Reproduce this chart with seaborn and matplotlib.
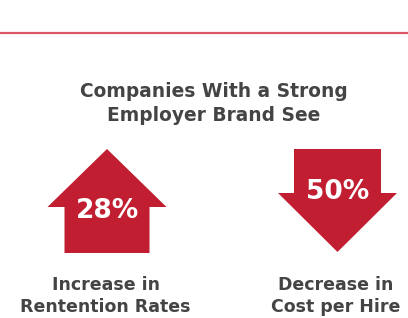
import matplotlib
matplotlib.use("Agg")
import matplotlib.pyplot as plt
import seaborn as sns
import numpy as np

# data
stats = [28, 50]
directions = ["up", "down"]
captions = ["Increase in\nRentention Rates", "Decrease in\nCost per Hire"]
title = "Companies With a Strong\nEmployer Brand See"

RED = "#c11f31"
GREY = "#444444"

sns.set_theme(style="white")
plt.rcParams['font.family'] = ['DejaVu Sans']

fig = plt.figure(figsize=(4.08, 3.18), dpi=100)
ax = fig.add_axes([0, 0, 1, 1])
ax.set_xlim(0, 408)
ax.set_ylim(318, 0)
ax.axis("off")

# top rule
ax.axhline(32.5, color="#dc5763", lw=1.6)

ax.text(213.5, 103.5, title, ha="center", va="center", fontsize=13.4,
        fontweight="bold", color=GREY, linespacing=1.38)


def arrow_poly(cx, top, bottom, head_w, shaft_w, head_len, up=True):
    if up:
        hb = top + head_len
        xs = [cx, cx + head_w / 2, cx + shaft_w / 2, cx + shaft_w / 2,
              cx - shaft_w / 2, cx - shaft_w / 2, cx - head_w / 2]
        ys = [top, hb, hb, bottom, bottom, hb, hb]
    else:
        hb = bottom - head_len
        xs = [cx, cx + head_w / 2, cx + shaft_w / 2, cx + shaft_w / 2,
              cx - shaft_w / 2, cx - shaft_w / 2, cx - head_w / 2]
        ys = [bottom, hb, hb, top, top, hb, hb]
    return xs, ys


centers = [107, 337.5]
for cx, val, d, cap in zip(centers, stats, directions, captions):
    if d == "up":
        xs, ys = arrow_poly(cx, 149, 253, 119, 85, 58, up=True)
        ty = 211
    else:
        xs, ys = arrow_poly(cx, 149, 252, 119, 87, 59, up=False)
        ty = 192
    ax.fill(xs, ys, color=RED, lw=0)
    ax.text(cx, ty, f"{val}%", ha="center", va="center", fontsize=19,
            fontweight="bold", color="white")
    ax.text(cx - 1.5, 296, cap, ha="center", va="center", fontsize=12.5,
            fontweight="bold", color=GREY, linespacing=1.3)

fig.savefig("out.png", dpi=100, facecolor="white")
